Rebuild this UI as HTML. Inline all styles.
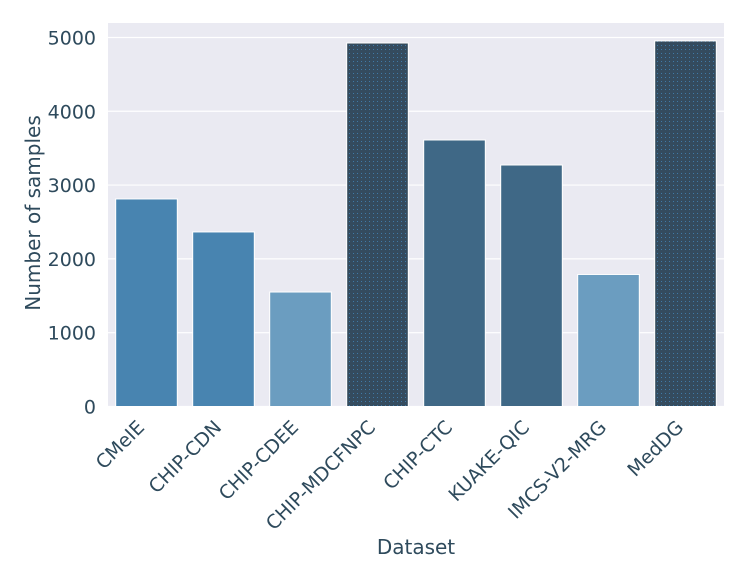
<!DOCTYPE html>
<html><head><meta charset="utf-8"><style>
body{margin:0;background:#fff}
svg{display:block;font-family:"DejaVu Sans","Liberation Sans",sans-serif}
</style></head><body>
<svg id="chart" width="747" height="581">
<defs>
<pattern id="dots" width="4" height="4" patternUnits="userSpaceOnUse">
<rect width="4" height="4" fill="#344b5e"/><rect x="1" y="1" width="1" height="1" fill="#3f7aa8"/>
</pattern>
</defs>
<rect x="108" y="23" width="616" height="384" fill="#eaeaf2"/>
<g id="grid"></g><g id="bars"></g><g id="yticks"></g><g id="xticks"></g>
<text x="416" y="554" text-anchor="middle" font-size="20" fill="#2e4a5c">Dataset</text>
<text transform="translate(40,213) rotate(-90)" text-anchor="middle" font-size="20" fill="#2e4a5c">Number of samples</text>
</svg>
<script>
const categories=["CMeIE","CHIP-CDN","CHIP-CDEE","CHIP-MDCFNPC","CHIP-CTC","KUAKE-QIC","IMCS-V2-MRG","MedDG"];
const values=[2812,2365,1551,4925,3611,3272,1789,4953];
const colors=["#4884b0","#4884b0","#6b9dc0","url(#dots)","#3f6886","#3f6886","#6b9dc0","url(#dots)"];
const yTicks=[0,1000,2000,3000,4000,5000];
const ns="http://www.w3.org/2000/svg";
const plotX0=108,plotW=616,plotY0=406.5,yMax=5196,plotTop=23;
const band=plotW/categories.length;
const yScale=v=>plotY0-(v/yMax)*(plotY0-plotTop);
const xc=i=>plotX0+band*(i+0.5);
function mk(t,a,p){const e=document.createElementNS(ns,t);for(const k in a)e.setAttribute(k,a[k]);p.appendChild(e);return e;}
const gG=document.getElementById('grid'),gB=document.getElementById('bars'),gY=document.getElementById('yticks'),gX=document.getElementById('xticks');
yTicks.forEach(v=>{
const l=mk('line',{x1:plotX0,x2:plotX0+plotW,y1:yScale(v),y2:yScale(v),stroke:'#fff','stroke-width':1.2},gG);


const t=mk('text',{x:96,y:yScale(v)+7,'text-anchor':'end','font-size':19,fill:'#2e4a5c'},gY);
t.textContent=v;


});
categories.forEach((c,i)=>{
const bw=band*0.8;
const r=mk('rect',{x:xc(i)-bw/2,y:yScale(values[i]),width:bw,height:plotY0-yScale(values[i]),fill:colors[i],stroke:'#fff','stroke-width':1},gB);


const t=mk('text',{transform:`translate(${xc(i)-1},${plotY0+22}) rotate(-45)`,'text-anchor':'end','font-size':19,fill:'#2e4a5c'},gX);
t.textContent=c;


});
</script>
</body></html>
